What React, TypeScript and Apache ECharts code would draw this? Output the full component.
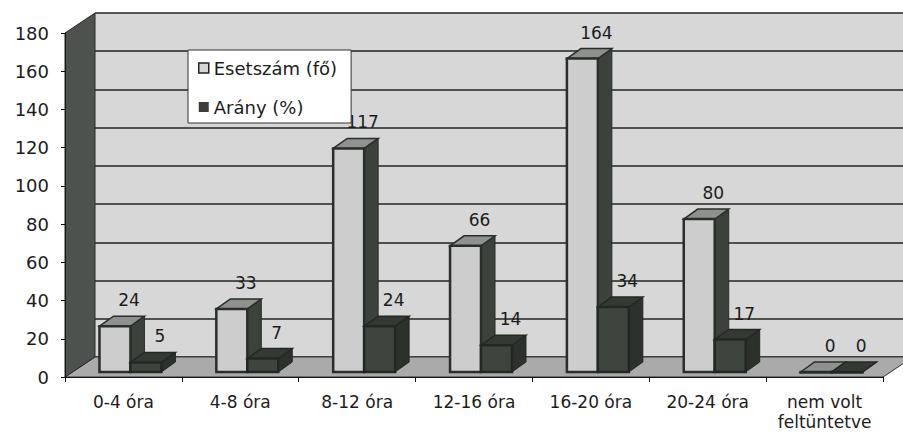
import React, { useEffect, useRef } from "react";
import * as echarts from "echarts";

const categories = ["0-4 óra", "4-8 óra", "8-12 óra", "12-16 óra", "16-20 óra", "20-24 óra", "nem volt\nfeltüntetve"];
const esetszam = [24, 33, 117, 66, 164, 80, 0];
const arany = [5, 7, 24, 14, 34, 17, 0];
const seriesNames = ["Esetszám (fő)", "Arány (%)"];
const yMin = 0;
const yMax = 180;
const yStep = 20;

const FONT = "DejaVu Sans";
const DEPTH_X = 30;
const DEPTH_Y = -20;

const styles = [
  { front: "#cdcdcd", side: "#3c413c", top: "#8e918e", stroke: "#2a2e2a" },
  { front: "#3e443e", side: "#2c312c", top: "#343934", stroke: "#242824" },
];

function barRender(idx: number) {
  return (params: any, api: any) => {
    const ci = api.value(0);
    const v = api.value(1);
    const [cx, y] = api.coord([ci, v]);
    const [, y0] = api.coord([ci, 0]);
    const band = api.size([1, 0])[0];
    const w = band * 0.265;
    const fx = cx + band * 0.06 + (idx === 0 ? -w : 0);
    const fy = y - 5;
    const by = y0 - 5;
    const dx = 14;
    const dy = -10;
    const s = styles[idx];
    return {
      type: "group",
      children: [
        {
          type: "polygon",
          shape: { points: [[fx + w, fy], [fx + w + dx, fy + dy], [fx + w + dx, by + dy], [fx + w, by]] },
          style: { fill: s.side, stroke: s.stroke, lineWidth: 1 },
        },
        {
          type: "polygon",
          shape: { points: [[fx, fy], [fx + dx, fy + dy], [fx + w + dx, fy + dy], [fx + w, fy]] },
          style: { fill: s.top, stroke: s.stroke, lineWidth: 1.5 },
        },
        {
          type: "rect",
          shape: { x: fx, y: fy, width: w, height: Math.max(by - fy, 0.5) },
          style: { fill: s.front, stroke: s.stroke, lineWidth: 2.5 },
        },
        {
          type: "text",
          x: fx + w / 2 + dx,
          y: fy + dy - 16,
          style: {
            text: String(v),
            fill: "#1c1c1c",
            font: `17px "${FONT}"`,
            align: "center",
            verticalAlign: "middle",
          },
        },
      ],
    };
  };
}

function wallRender(params: any, api: any) {
  const band = api.size([1, 0])[0];
  const [c0, yb] = api.coord([0, yMin]);
  const [cN] = api.coord([categories.length - 1, yMin]);
  const [, yt] = api.coord([0, yMax]);
  const left = c0 - band / 2;
  const right = cN + band / 2;
  return {
    type: "group",
    children: [
      {
        type: "polygon",
        shape: { points: [[left, yb], [right, yb], [right + DEPTH_X, yb + DEPTH_Y], [left + DEPTH_X, yb + DEPTH_Y]] },
        style: { fill: "#a9aaa9", stroke: "#333", lineWidth: 1 },
      },
      {
        type: "polygon",
        shape: { points: [[left, yb], [left + DEPTH_X, yb + DEPTH_Y], [left + DEPTH_X, yt + DEPTH_Y], [left, yt]] },
        style: { fill: "#4e524e", stroke: "#2a2a2a", lineWidth: 1 },
      },
    ],
  };
}

export default function App() {
  const ref = useRef<HTMLDivElement>(null);
  useEffect(() => {
    if (!ref.current) return;
    const chart = echarts.init(ref.current, null, { renderer: "svg" });
    chart.setOption({
      animation: false,
      backgroundColor: "#ffffff",
      textStyle: { fontFamily: FONT },
      legend: {
        left: 188,
        top: 50,
        orient: "vertical",
        backgroundColor: "#ffffff",
        borderColor: "#333",
        borderWidth: 1,
        padding: [9, 14, 7, 10],
        itemWidth: 10,
        itemHeight: 10,
        itemGap: 21,
        selectedMode: false,
        z: 20,
        textStyle: { fontFamily: FONT, fontSize: 18, color: "#1c1c1c" },
        data: [
          { name: seriesNames[0], icon: "rect", itemStyle: { color: "#d6d6d6", borderColor: "#222", borderWidth: 1.5 } },
          { name: seriesNames[1], icon: "rect", itemStyle: { color: "#3a3f3a" } },
        ],
      },
      grid: [
        { left: 65, right: 20, top: 33, bottom: 61 },
        { left: 65 + DEPTH_X, right: 20 - DEPTH_X, top: 33 + DEPTH_Y, bottom: 61 - DEPTH_Y, show: true, backgroundColor: "#d6d7d6", borderWidth: 0 },
      ],
      xAxis: [
        {
          type: "category",
          gridIndex: 0,
          data: categories,
          axisLine: { show: true, lineStyle: { color: "#111", width: 1 } },
          axisTick: { show: true, length: 5, interval: 0, alignWithLabel: false, lineStyle: { color: "#111" } },
          axisLabel: { interval: 0, margin: 15, fontFamily: FONT, fontSize: 17, color: "#1c1c1c", lineHeight: 20 },
          splitLine: { show: false },
          z: 5,
        },
        { type: "category", gridIndex: 1, data: categories, show: false },
      ],
      yAxis: [
        {
          type: "value",
          gridIndex: 0,
          min: yMin,
          max: yMax,
          interval: yStep,
          axisLine: { show: true, lineStyle: { color: "#111", width: 1 } },
          axisTick: { show: true, length: 4, lineStyle: { color: "#111" } },
          axisLabel: { margin: 16, fontFamily: FONT, fontSize: 18, color: "#1c1c1c" },
          splitLine: { show: false },
          z: 5,
        },
        {
          type: "value",
          gridIndex: 1,
          min: yMin,
          max: yMax,
          interval: yStep,
          axisLine: { show: false },
          axisTick: { show: false },
          axisLabel: { show: false },
          splitLine: { show: true, lineStyle: { color: "#202420", width: 1.6 } },
        },
      ],
      series: [
        {
          type: "custom",
          name: "walls",
          xAxisIndex: 0,
          yAxisIndex: 0,
          data: [[0]],
          renderItem: wallRender,
          z: 1,
          silent: true,
        },
        {
          type: "custom",
          name: seriesNames[0],
          xAxisIndex: 0,
          yAxisIndex: 0,
          itemStyle: { color: "#d6d6d6" },
          data: esetszam.map((v, i) => [i, v]),
          renderItem: barRender(0),
          z: 3,
        },
        {
          type: "custom",
          name: seriesNames[1],
          xAxisIndex: 0,
          yAxisIndex: 0,
          itemStyle: { color: "#3a3f3a" },
          data: arany.map((v, i) => [i, v]),
          renderItem: barRender(1),
          z: 4,
        },
      ],
    });
    return () => chart.dispose();
  }, []);
  return <div ref={ref} style={{ position: "absolute", left: 0, top: 0, width: 903, height: 438 }} />;
}
